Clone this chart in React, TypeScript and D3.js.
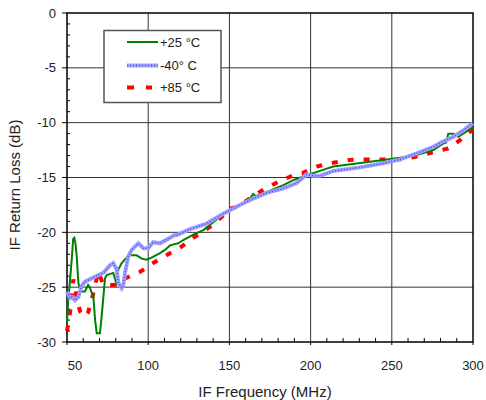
import React, { useRef, useEffect } from "react";
import * as d3 from "d3";

// +25 °C
const freq25 = [50, 50.8, 51.5, 52.9, 53.8, 54.5, 55.2, 56, 57, 58, 59, 61, 63, 64, 65.2, 66.2, 67.3, 68.3, 70.3, 71.3, 72.4, 73.4, 74.4, 78.5, 79.5, 80.6, 81.6, 83.7, 86.7, 88.8, 92.9, 96, 99, 102, 107.3, 110.3, 113.4, 115.5, 118.5, 121.6, 127.8, 133.9, 139.1, 144.2, 150, 156.5, 162.7, 164.7, 166, 175, 183.2, 190, 197.6, 205.8, 214, 229.4, 244.8, 255, 265.3, 275.6, 281.7, 283.5, 284.8, 287.9, 291, 296.1, 300];
const loss25 = [-28.3, -26, -25, -22.5, -20.6, -20.5, -21, -22.2, -24.6, -25.2, -25.4, -25.4, -24.8, -25, -25.5, -25.8, -28, -29.2, -29.2, -27.7, -25.9, -24.2, -23.9, -23.7, -24.2, -24.8, -23.4, -22.8, -22.3, -22.1, -22.1, -22.4, -22.5, -22.3, -21.9, -21.6, -21.2, -21.1, -21, -20.7, -20.2, -19.8, -19.2, -18.6, -18, -17.5, -16.9, -16.5, -16.7, -16.2, -15.7, -15.2, -14.8, -14.4, -14.0, -13.7, -13.4, -13.2, -12.95, -12.5, -11.9, -11.8, -11.0, -11.0, -11.3, -10.8, -10.4];

// -40 °C
const freqM40 = [50, 51.8, 53, 54.9, 57, 59, 61.1, 65.2, 69.3, 72.4, 76.5, 78.5, 80.6, 81.6, 83.7, 84.7, 85.7, 87.7, 89.8, 93.9, 97, 100, 103.1, 107.3, 113.4, 115.5, 118.5, 125.7, 136, 146.2, 150, 156.5, 162.7, 173, 183.2, 191.4, 197.6, 201.7, 205.8, 214, 229.4, 244.8, 255, 265.3, 275.6, 281.7, 287.9, 294, 300];
const lossM40 = [-25.4, -26, -25.9, -26.2, -25.9, -24.9, -24.5, -24.2, -23.9, -23.7, -23, -22.8, -23.4, -24.6, -25.1, -24.8, -23.7, -22.2, -21.6, -21, -21.45, -21.45, -20.9, -21.0, -20.5, -20.3, -20.2, -19.7, -19.2, -18.3, -18.0, -17.5, -17.05, -16.4, -16.0, -15.5, -14.7, -14.85, -14.85, -14.4, -14.1, -13.7, -13.35, -12.8, -12.2, -11.7, -11.3, -10.7, -10.05];

// +85 °C
const freq85 = [50, 51.8, 52.9, 53.9, 56, 58, 61.1, 63, 65.2, 67, 69.3, 72.4, 79.6, 85.7, 95, 104.2, 113.4, 120.6, 128.8, 138, 145.2, 151.4, 154.5, 162.7, 170.9, 180.1, 189.3, 195, 203.7, 214, 224.3, 234.5, 244.8, 255, 265.3, 275.6, 284.8, 292, 300];
const loss85 = [-29, -27.4, -26, -24.3, -25.9, -27.2, -27.7, -27.3, -26.2, -25, -23.6, -24.8, -24.8, -24.2, -23.6, -22.7, -21.9, -21.3, -20.4, -19.5, -18.6, -17.8, -17.7, -16.9, -16.1, -15.4, -14.8, -14.6, -14.0, -13.65, -13.4, -13.35, -13.35, -13.35, -13.1, -12.7, -12.35, -11.6, -10.6];

const xTicks = [50, 100, 150, 200, 250, 300];
const yTicks = [0, -5, -10, -15, -20, -25, -30];
const legendLabels = ["+25 \u00b0C", "-40\u00b0 C", "+85 \u00b0C"];

const font = "'Liberation Sans', Arial, sans-serif";

const App = () => {
  const svgRef = useRef<SVGSVGElement>(null);

  useEffect(() => {
    const width = 486;
    const height = 400;
    const margin = { top: 13, right: 13, bottom: 58, left: 67 };

    const svg = d3.select(svgRef.current);
    svg.selectAll("*").remove();

    const x = d3
      .scaleLinear()
      .domain([50, 300])
      .range([margin.left, width - margin.right]);
    const y = d3
      .scaleLinear()
      .domain([-30, 0])
      .range([height - margin.bottom, margin.top]);

    const x0 = margin.left;
    const x1 = width - margin.right;
    const y0 = height - margin.bottom;
    const y1 = margin.top;

    // grid
    const grid = svg.append("g").attr("stroke", "#333").attr("stroke-width", 1);
    xTicks.slice(1, -1).forEach((t) => {
      grid.append("line").attr("x1", x(t)).attr("x2", x(t)).attr("y1", y0).attr("y2", y1);
    });
    yTicks.slice(1, -1).forEach((t) => {
      grid.append("line").attr("x1", x0).attr("x2", x1).attr("y1", y(t)).attr("y2", y(t));
    });

    // minor ticks
    const minor = svg.append("g").attr("stroke", "#000").attr("stroke-width", 1);
    d3.range(60, 300, 10)
      .filter((v) => v % 50 !== 0)
      .forEach((v) => {
        minor.append("line").attr("x1", x(v)).attr("x2", x(v)).attr("y1", y0).attr("y2", y0 - 4);
      });
    d3.range(-29, 0, 1)
      .filter((v) => v % 5 !== 0)
      .forEach((v) => {
        minor.append("line").attr("x1", x0).attr("x2", x0 + 3).attr("y1", y(v)).attr("y2", y(v));
      });
    // major outward ticks
    yTicks.forEach((t) => {
      minor.append("line").attr("x1", x0 - 5).attr("x2", x0).attr("y1", y(t)).attr("y2", y(t));
    });
    xTicks.forEach((t) => {
      minor.append("line").attr("x1", x(t)).attr("x2", x(t)).attr("y1", y0).attr("y2", y0 + 3);
    });

    // frame
    svg
      .append("rect")
      .attr("x", x0)
      .attr("y", y1)
      .attr("width", x1 - x0)
      .attr("height", y0 - y1)
      .attr("fill", "none")
      .attr("stroke", "#000")
      .attr("stroke-width", 1.5);

    // tick labels
    svg
      .selectAll(".xl")
      .data(xTicks)
      .enter()
      .append("text")
      .attr("x", (d, i) => x(d) + (i === 0 ? 8 : 0))
      .attr("y", 370)
      .attr("text-anchor", "middle")
      .style("font-family", font)
      .style("font-size", "13px")
      .attr("fill", "#222")
      .text((d) => d);

    svg
      .selectAll(".yl")
      .data(yTicks)
      .enter()
      .append("text")
      .attr("x", 56)
      .attr("y", (d) => y(d) + 4.5)
      .attr("text-anchor", "end")
      .style("font-family", font)
      .style("font-size", "13px")
      .attr("fill", "#222")
      .text((d) => d);

    // axis titles
    svg
      .append("text")
      .attr("x", 265)
      .attr("y", 397)
      .attr("text-anchor", "middle")
      .style("font-family", font)
      .style("font-size", "15px")
      .attr("fill", "#222")
      .text("IF Frequency (MHz)");
    svg
      .append("text")
      .attr("transform", "translate(20,185) rotate(-90)")
      .attr("text-anchor", "middle")
      .style("font-family", font)
      .style("font-size", "15px")
      .attr("fill", "#222")
      .text("IF Return Loss (dB)");

    const line = d3
      .line<[number, number]>()
      .x((d) => x(d[0]))
      .y((d) => y(d[1]));

    const pts = (f: number[], v: number[]) => f.map((d, i) => [d, v[i]] as [number, number]);

    svg
      .append("path")
      .attr("d", line(pts(freq85, loss85)))
      .attr("fill", "none")
      .attr("stroke", "#ff0000")
      .attr("stroke-width", 4)
      .attr("stroke-dasharray", "6,10");

    svg
      .append("path")
      .attr("d", line(pts(freq25, loss25)))
      .attr("fill", "none")
      .attr("stroke", "#008000")
      .attr("stroke-width", 2);

    svg
      .append("path")
      .attr("d", line(pts(freqM40, lossM40)))
      .attr("fill", "none")
      .attr("stroke", "#a0a0ff")
      .attr("stroke-width", 4);
    svg
      .append("path")
      .attr("d", line(pts(freqM40, lossM40)))
      .attr("fill", "none")
      .attr("stroke", "#4a4aff")
      .attr("stroke-width", 1.5)
      .attr("stroke-dasharray", "1,2");

    // legend
    const lg = svg.append("g");
    lg.append("rect")
      .attr("x", 104)
      .attr("y", 30.5)
      .attr("width", 117)
      .attr("height", 72)
      .attr("fill", "#fff")
      .attr("stroke", "#555")
      .attr("stroke-width", 1.5);
    const ly = [42, 65.5, 87.5];
    lg.append("line").attr("x1", 127).attr("x2", 158).attr("y1", ly[0]).attr("y2", ly[0])
      .attr("stroke", "#008000").attr("stroke-width", 2);
    lg.append("line").attr("x1", 127).attr("x2", 158).attr("y1", ly[1]).attr("y2", ly[1])
      .attr("stroke", "#a0a0ff").attr("stroke-width", 4);
    lg.append("line").attr("x1", 127).attr("x2", 158).attr("y1", ly[1]).attr("y2", ly[1])
      .attr("stroke", "#4a4aff").attr("stroke-width", 1.5).attr("stroke-dasharray", "1,2");
    lg.append("line").attr("x1", 127).attr("x2", 152).attr("y1", ly[2]).attr("y2", ly[2])
      .attr("stroke", "#ff0000").attr("stroke-width", 4).attr("stroke-dasharray", "7,12");
    legendLabels.forEach((t, i) => {
      lg.append("text")
        .attr("x", 160)
        .attr("y", ly[i] + 4.5)
        .style("font-family", font)
        .style("font-size", "13px")
        .attr("fill", "#222")
        .text(t);
    });
  }, []);

  return (
    <div style={{ position: "absolute", left: 0, top: 0 }}>
      <svg ref={svgRef} width={486} height={400} style={{ display: "block", background: "#fff" }}></svg>
    </div>
  );
};

export default App;
